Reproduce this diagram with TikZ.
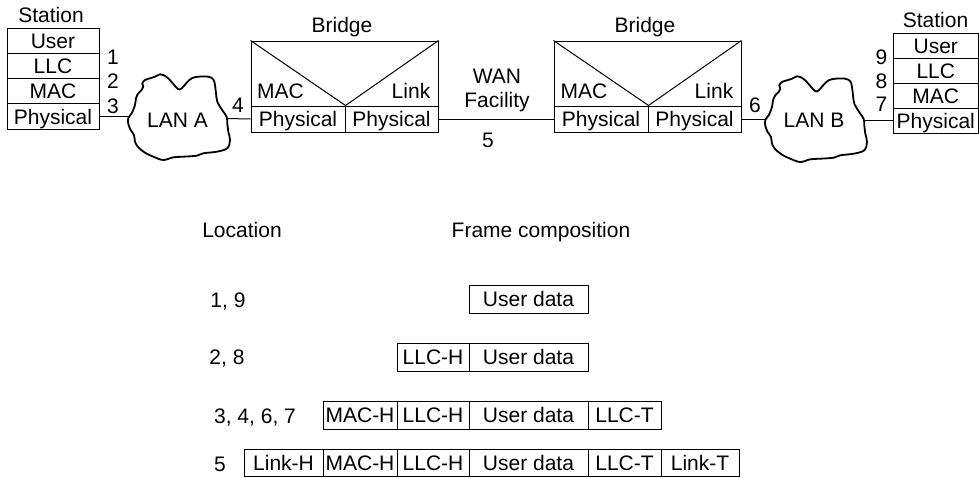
\documentclass[tikz,border=0pt]{standalone}
\usepackage{fontspec}
\setmainfont{Liberation Sans}
\begin{document}
\begin{tikzpicture}[x=1pt,y=-1pt,
  every node/.style={font=\fontsize{21}{24}\selectfont, inner sep=0pt, text height=15pt, text depth=0pt},
  cell/.style 2 args={draw, line width=1pt, minimum width=#1, minimum height=#2},
  lbl/.style={},
  wire/.style={line width=1pt},
  cloudline/.style={line width=1.8pt, line join=round}]
\useasboundingbox (0,0) rectangle (979,477);

% ---------- Station 1 ----------
\node[lbl] (st1) at (51,14.5) {Station};
\node[cell={92pt}{25.3pt}] (s1us) at (53,40.65) {User};
\node[cell={92pt}{25.3pt}] (s1ll) at (53,65.95) {LLC};
\node[cell={92pt}{25.3pt}] (s1ma) at (53,91.25) {MAC};
\node[cell={92pt}{25.3pt}] (s1ph) at (53,116.55) {Physical};
\node (n1) at (113,57) {1};
\node (n2) at (113,81) {2};
\node (n3) at (113,106) {3};

% ---------- LAN A ----------
\draw[cloudline] plot[smooth cycle, tension=0.55] coordinates {
 (128.3,118) (131.7,113.3) (135,105) (136,98.3) (138.3,93.3) (141.7,90) (143.3,86.7)
 (142.3,83.3) (145,80) (150,78.3) (155,76.7) (160,74.3) (163.3,75) (168.3,78.3)
 (173.3,84) (178.3,89.3) (181.7,88.3) (186.7,82.7) (191.7,78.3) (198.3,76.7)
 (208.3,76.7) (213.3,79.3) (215,85) (216,93.3) (217.3,101.7) (221.7,109.3)
 (226.7,117) (227.3,123.3) (228.3,131.7) (230,140) (227.3,148.3) (216.7,151.7)
 (203.3,153.3) (196.7,155.7) (183.3,156.7) (173.3,157.3) (163.3,160) (153.3,156.7)
 (145,152.7) (138.3,147.3) (135,141.7) (134,135) (130.7,130) (128.3,124)};
\node (lanA) at (177.5,119.5) {LAN A};
\coordinate (lanAw) at (128.3,116.55);
\coordinate (lanAe) at (226.8,118.5);
\node (n4) at (238,105) {4};

% ---------- Bridge 1 ----------
\node[lbl] (b1lab) at (342,25) {Bridge};
\node[cell={187pt}{65pt}] (b1top) at (344.5,73.5) {};
\node[cell={94pt}{26pt}] (b1pl) at (298,119) {Physical};
\node[cell={93pt}{26pt}] (b1pr) at (391.5,119) {Physical};
\draw[wire] (b1top.north west) -- (b1pl.north east);
\draw[wire] (b1top.north east) -- (b1pl.north east);
\node (b1mac) at (280.5,91) {MAC};
\node (b1link) at (411,91) {Link};

% ---------- WAN ----------
\node (wan1) at (497,75.5) {WAN};
\node (wan2) at (497,100) {Facility};
\node (n5) at (488,140) {5};

% ---------- Bridge 2 ----------
\node[lbl] (b2lab) at (645,25) {Bridge};
\node[cell={187pt}{65pt}] (b2top) at (647.5,73.5) {};
\node[cell={94pt}{26pt}] (b2pl) at (601,119) {Physical};
\node[cell={93pt}{26pt}] (b2pr) at (694.5,119) {Physical};
\draw[wire] (b2top.north west) -- (b2pl.north east);
\draw[wire] (b2top.north east) -- (b2pl.north east);
\node (b2mac) at (584,91) {MAC};
\node (b2link) at (714,91) {Link};
\node (n6) at (755,105) {6};

% ---------- LAN B ----------
\draw[cloudline, shift={(637,2)}] plot[smooth cycle, tension=0.55] coordinates {
 (128.3,118) (131.7,113.3) (135,105) (136,98.3) (138.3,93.3) (141.7,90) (143.3,86.7)
 (142.3,83.3) (145,80) (150,78.3) (155,76.7) (160,74.3) (163.3,75) (168.3,78.3)
 (173.3,84) (178.3,89.3) (181.7,88.3) (186.7,82.7) (191.7,78.3) (198.3,76.7)
 (208.3,76.7) (213.3,79.3) (215,85) (216,93.3) (217.3,101.7) (221.7,109.3)
 (226.7,117) (227.3,123.3) (228.3,131.7) (230,140) (227.3,148.3) (216.7,151.7)
 (203.3,153.3) (196.7,155.7) (183.3,156.7) (173.3,157.3) (163.3,160) (153.3,156.7)
 (145,152.7) (138.3,147.3) (135,141.7) (134,135) (130.7,130) (128.3,124)};
\node (lanB) at (814,120) {LAN B};
\coordinate (lanBw) at (765.3,119);
\coordinate (lanBe) at (863.7,120.5);

% ---------- Station 2 ----------
\node[lbl] (st2) at (935.5,19.5) {Station};
\node[cell={85.5pt}{25pt}] (s2us) at (935.75,45.5) {User};
\node[cell={85.5pt}{25pt}] (s2ll) at (935.75,70.5) {LLC};
\node[cell={85.5pt}{25pt}] (s2ma) at (935.75,95.5) {MAC};
\node[cell={85.5pt}{25pt}] (s2ph) at (935.75,120.5) {Physical};
\node (n9) at (881.5,56.5) {9};
\node (n8) at (881.5,80.5) {8};
\node (n7) at (881.5,103.5) {7};

% ---------- connectors ----------
\draw[wire] (s1ph.east) -- (lanAw);
\draw[wire] (lanAe) -- (b1pl.west);
\draw[wire] (b1pr.east) -- (b2pl.west);
\draw[wire] (b2pr.east) -- (lanBw);
\draw[wire] (lanBe) -- (s2ph.west);

% ---------- frame composition ----------
\node (hloc) at (242,230) {Location};
\node (hfr) at (541,230) {Frame composition};

\node (l1) at (228,300) {1, 9};
\node[cell={119pt}{28pt}] (r1ud) at (528.5,299) {User data};

\node (l2) at (227,357) {2, 8};
\node[cell={72pt}{28pt}] (r2lh) at (433,357) {LLC-H};
\node[cell={119pt}{28pt}] (r2ud) at (528.5,357) {User data};

\node (l3) at (255,416) {3, 4, 6, 7};
\node[cell={74pt}{28pt}] (r3mh) at (360,415) {MAC-H};
\node[cell={72pt}{28pt}] (r3lh) at (433,415) {LLC-H};
\node[cell={119pt}{28pt}] (r3ud) at (528.5,415) {User data};
\node[cell={73pt}{28pt}] (r3lt) at (624.5,415) {LLC-T};

\node (l4) at (220,464) {5};
\node[cell={79pt}{27pt}] (r4kh) at (283.5,463) {Link-H};
\node[cell={74pt}{27pt}] (r4mh) at (360,463) {MAC-H};
\node[cell={72pt}{27pt}] (r4lh) at (433,463) {LLC-H};
\node[cell={119pt}{27pt}] (r4ud) at (528.5,463) {User data};
\node[cell={73pt}{27pt}] (r4lt) at (624.5,463) {LLC-T};
\node[cell={78pt}{27pt}] (r4kt) at (700,463) {Link-T};
\end{tikzpicture}
\end{document}
